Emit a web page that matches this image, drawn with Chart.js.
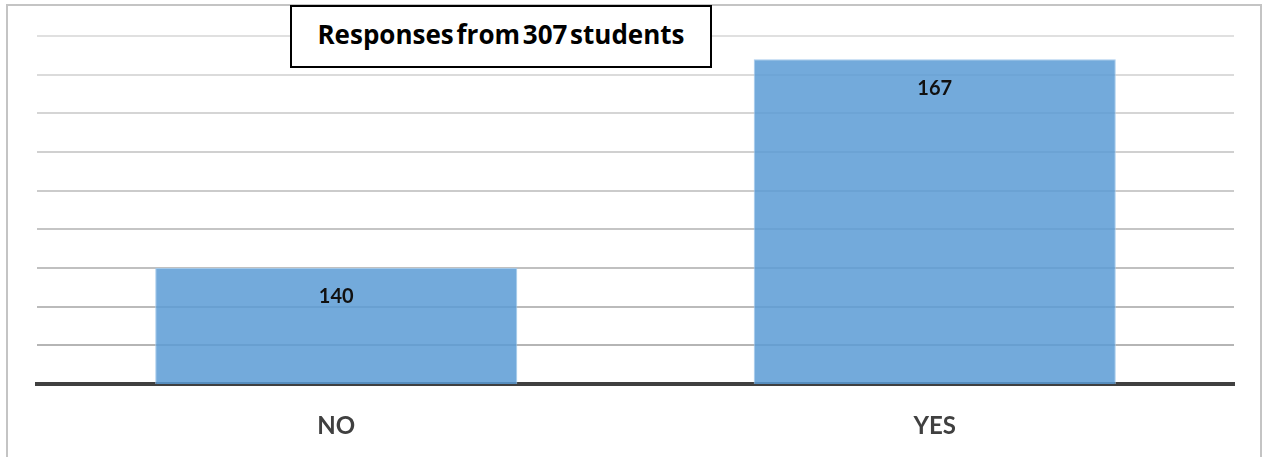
<!DOCTYPE html>
<html>
<head>
<meta charset="utf-8">
<script src="https://cdn.jsdelivr.net/npm/chart.js@4.4.1/dist/chart.umd.min.js"></script>
<style>
  body { margin: 0; background: #fff; }
  #frame { position: absolute; left: 6px; top: 4px; width: 1252px; height: 470px; border: 2px solid #c4c4c4; }
  #wrap { position: absolute; left: 0; top: 0; width: 1262px; height: 457px; }
  #heading {
    position: absolute; left: 290px; top: 5px; width: 418px; height: 59px;
    border: 2px solid #000; background: #fff;
    font: bold 26px "Open Sans", Lato, sans-serif; color: #000;
    display: flex; align-items: center; justify-content: center;
    word-spacing: -4px;
  }
  #heading span { position: relative; top: -3px; }
</style>
</head>
<body>
<div id="frame"></div>
<div id="wrap"><canvas id="myChart" width="1262" height="457"></canvas></div>
<div id="heading"><span>Responses from 307 students</span></div>
<script>
const categories = ['NO', 'YES'];
const responses = [140, 167];
const yMin = 125;
const yMax = 170;
const yStep = 5;

const ctx = document.getElementById('myChart');

// numbers written inside the top of each bar
const valueLabels = {
    id: 'valueLabels',
    afterDatasetsDraw(chart) {
        const c = chart.ctx;
        const meta = chart.getDatasetMeta(0);
        c.save();
        c.font = 'bold 20px Lato, "Open Sans", sans-serif';
        c.fillStyle = '#111';
        c.textAlign = 'center';
        c.textBaseline = 'middle';
        meta.data.forEach((bar, i) => {
            c.fillText(String(responses[i]), bar.x, bar.y + 29);
        });
        c.restore();
    }
};

new Chart(ctx, {
    type: 'bar',
    data: {
        labels: categories,
        datasets: [{
            label: 'Responses',
            data: responses,
            backgroundColor: 'rgba(91, 155, 213, 0.85)',
            borderColor: 'rgba(160, 200, 235, 0.9)',
            borderWidth: 1,
            barPercentage: 0.605,
            categoryPercentage: 1
        }]
    },
    options: {
        responsive: false,
        animation: false,
        layout: { padding: { left: 37, right: 28, top: 36, bottom: 0 } },
        plugins: {
            legend: { display: false },
            tooltip: { enabled: false }
        },
        scales: {
            x: {
                grid: { display: false },
                border: { color: '#404040', width: 4 },
                ticks: {
                    color: '#404040',
                    font: { family: 'Lato, "Open Sans", sans-serif', size: 24, weight: 'bold' },
                    padding: 20
                },
                afterFit(scale) { scale.height = 73; }
            },
            y: {
                min: yMin,
                max: yMax,
                border: { display: false },
                grid: {
                    drawTicks: false,
                    lineWidth: 2,
                    color: (c) => {
                        const t = c.index / 9;
                        const v = Math.round(176 + (224 - 176) * t);
                        return `rgb(${v}, ${v}, ${v})`;
                    }
                },
                ticks: { display: false, stepSize: yStep },
                afterFit(scale) { scale.width = 0; }
            }
        }
    },
    plugins: [valueLabels]
});
</script>
</body>
</html>
